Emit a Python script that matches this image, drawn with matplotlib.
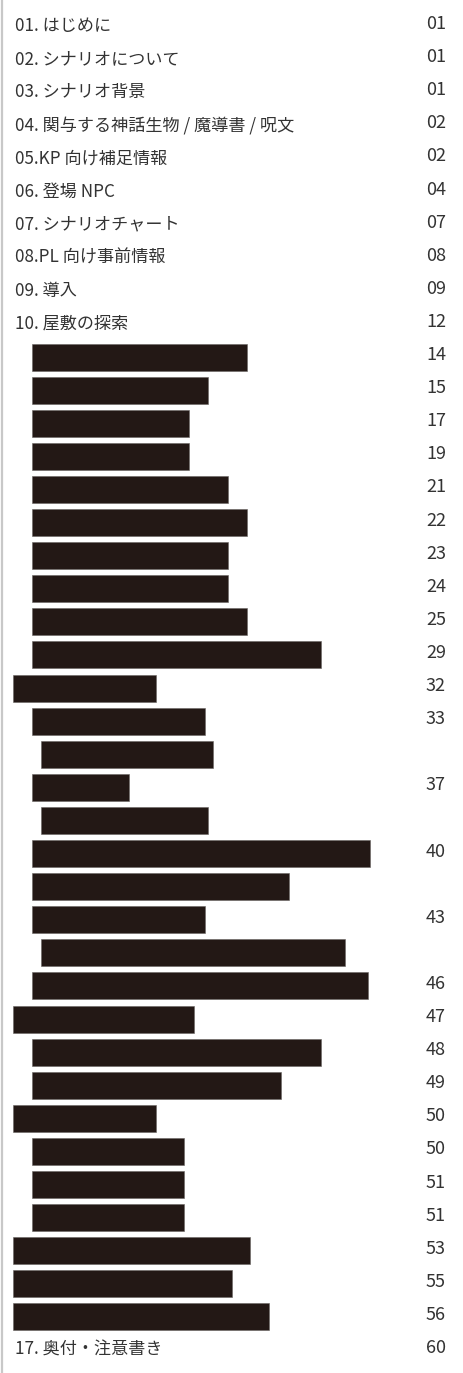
import matplotlib.pyplot as plt
import numpy as np

plt.rcParams['font.family'] = ['Noto Sans CJK JP', 'DejaVu Sans']

# 見出し (テキスト行)
heading_rows = [0, 1, 2, 3, 4, 5, 6, 7, 8, 9, 40]
heading_labels = ["01. はじめに", "02. シナリオについて", "03. シナリオ背景",
                  "04. 関与する神話生物 / 魔導書 / 呪文", "05.KP 向け補足情報",
                  "06. 登場 NPC", "07. シナリオチャート", "08.PL 向け事前情報",
                  "09. 導入", "10. 屋敷の探索", "17. 奥付・注意書き"]

# 黒塗りの行 (開始位置と終了位置)
bar_rows = list(range(10, 40))
bar_left = [32, 32, 32, 32, 32, 32, 32, 32, 32, 32,
            13, 32, 41, 32, 41, 32, 32, 32, 41, 32,
            13, 32, 32, 13, 32, 32, 32, 13, 13, 13]
bar_right = [247, 208, 189, 189, 228, 247, 228, 228, 247, 321,
             156, 205, 213, 129, 208, 370, 289, 205, 345, 368,
             194, 321, 281, 156, 184, 184, 184, 250, 232, 269]

# ページ番号
pages = ["01", "01", "01", "02", "02", "04", "07", "08", "09", "12",
         "14", "15", "17", "19", "21", "22", "23", "24", "25", "29",
         "32", "33", "", "37", "", "40", "", "43", "", "46",
         "47", "48", "49", "50", "50", "51", "51", "53", "55", "56",
         "60"]

W, H = 463, 1373
row0, step = 26, 33.1

fig = plt.figure(figsize=(W / 100, H / 100), dpi=100)
ax = fig.add_axes([0, 0, 1, 1])
ax.set_xlim(0, W)
ax.set_ylim((H - row0) / step, -row0 / step)
ax.axis('off')

# 左の灰色の線
ax.axvline(1.5, color='#c8c8c8', lw=1.6)

widths = np.array(bar_right) - np.array(bar_left)
ax.barh(bar_rows, widths, left=bar_left, height=27 / step,
        color='#231815', edgecolor='#6a6462', linewidth=0.4)

for r, lab in zip(heading_rows, heading_labels):
    ax.text(15, r, lab, ha='left', va='center', fontsize=12.3, color='#333333')

for r, p in enumerate(pages):
    if p:
        ax.text(446, r - 0.06, p, ha='right', va='center', fontsize=13,
                color='#333333')

fig.savefig('out.png', dpi=100, facecolor='white')
